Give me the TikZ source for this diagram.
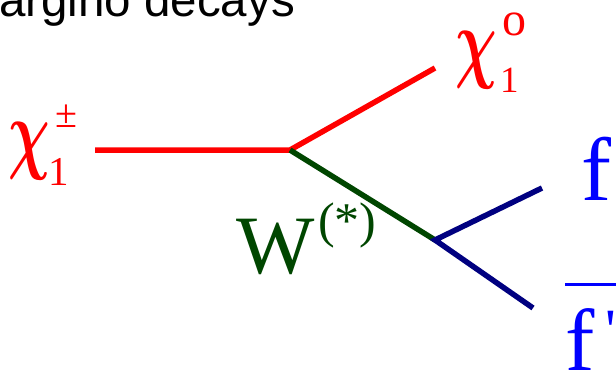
\documentclass[tikz,border=0pt]{standalone}
\usepackage{bm}
\usepackage{fontspec}
\newfontfamily\labfont{Liberation Serif}
\newfontfamily\titlefont{Liberation Sans}
\definecolor{charred}{RGB}{255,0,0}
\definecolor{wgreen}{RGB}{0,70,0}
\definecolor{fblue}{RGB}{0,0,255}
\definecolor{navyline}{RGB}{0,0,128}
\newcommand{\fsz}[1]{\fontsize{#1}{#1}\selectfont}
\newcommand{\chiglyph}{\fontsize{10}{10}\selectfont\scalebox{5.8}[9]{$\bm{\chi}$}}
\begin{document}
\begin{tikzpicture}[x=1pt,y=-1pt,
  lab/.style={inner sep=0pt,outer sep=0pt,anchor=base west,font=\labfont},
  leg/.style={line width=5.5pt}]
\useasboundingbox (0,0) rectangle (616,375);
% title (cropped)
\node[inner sep=0pt,anchor=base west,font=\titlefont\fsz{47.5}] (title) at (-1,16) {argino decays};
% vertices
\coordinate (inL) at (95,150);
\coordinate (v1) at (290,150);
\coordinate (outN) at (435,68);
\coordinate (v2) at (435,240);
\coordinate (outF) at (542,188);
\coordinate (outFb) at (533,308);
% lines
\draw[leg,charred] (inL) -- (v1) -- (outN);
\draw[leg,wgreen] (v1) -- (v2);
\draw[leg,navyline] (outF) -- (v2) -- (outFb);
% chargino label
\node[lab,text=charred] (chiL) at (9,162) {\chiglyph};
\node[lab,text=charred,font=\labfont\fsz{41}] (chiLsub) at (48,185) {1};
\node[lab,text=charred,font=\labfont\fsz{40}] (chiLsup) at (55,127) {±};
% neutralino label
\node[lab,text=charred] (chiR) at (455,71) {\chiglyph};
\node[lab,text=charred,font=\labfont\fsz{37}] (chiRsub) at (500,92) {1};
\node[lab,text=charred,font=\labfont\fsz{48}] (chiRsup) at (502,35) {o};
% W label
\node[lab,text=wgreen,font=\labfont\fsz{83}] (W) at (236,273) {W};
\node[lab,text=wgreen,font=\labfont\fsz{50}] (Wsup) at (318,237) {(*)};
% fermions
\node[lab,text=fblue,font=\labfont\fsz{90}] (f) at (581,200) {f};
\node[lab,text=fblue,font=\labfont\fsz{88}] (fbar) at (565,370) {\rlap{\rule[84pt]{52pt}{3pt}}f};
\node[lab,text=fblue,font=\labfont\fsz{60}] (fprime) at (605,350) {'};
\end{tikzpicture}
\end{document}
